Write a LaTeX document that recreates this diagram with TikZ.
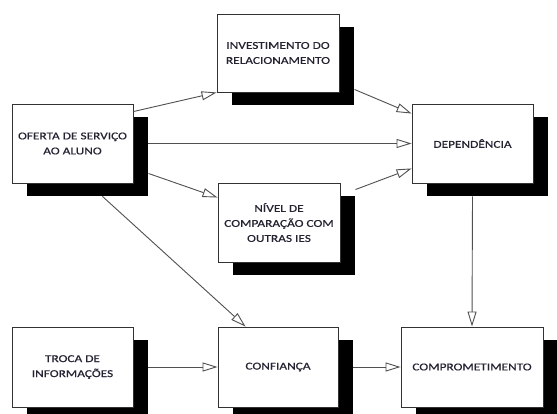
\documentclass[tikz,border=0pt]{standalone}
\usepackage{fontspec}
\usetikzlibrary{arrows.meta,shadows,calc}
\newfontfamily\boxfont[FakeStretch=1.27,FakeBold=0.5]{Carlito}
\definecolor{linegray}{RGB}{80,80,80}
\definecolor{edgegray}{RGB}{50,50,50}
\definecolor{txt}{RGB}{35,35,50}
\begin{document}
\begin{tikzpicture}[x=1pt,y=-1pt,
  block/.style={draw=edgegray, line width=0.9pt, fill=white,
    minimum width=121pt, minimum height=79pt, inner sep=2pt,
    align=center, text=txt,
    font=\boxfont\fontsize{10.5}{15}\selectfont,
    general shadow={fill=black, shadow xshift=15pt, shadow yshift=-13pt}},
  link/.style={draw=linegray, line width=0.9pt,
    -{Triangle[length=15pt,width=9pt,fill=white]}}]
\useasboundingbox[fill=white] (0,0) rectangle (557,414);

% boxes
\node[block] (of)   at (72.5,143.5) {OFERTA DE SERVIÇO\\AO ALUNO};
\node[block, minimum width=122pt, minimum height=78pt] (inv) at (278,53) {INVESTIMENTO DO\\RELACIONAMENTO};
\node[block, minimum width=122pt] (niv)  at (279,222.5) {NÍVEL DE\\COMPARAÇÃO COM\\OUTRAS IES};
\node[block] (dep)  at (472.5,143.5) {DEPENDÊNCIA};
\node[block, minimum height=80pt] (troca) at (72.5,367) {TROCA DE\\INFORMAÇÕES};
\node[block, minimum width=120pt, minimum height=80pt] (conf) at (278,367) {CONFIANÇA};
\node[block, minimum width=142pt, minimum height=80pt] (comp) at (472,367) {COMPROMETIMENTO};

% connectors
\draw[link] ($(of.north east)+(0,8)$) -- (inv.south west);
\draw[link] ($(of.east)+(15,0)$) -- (dep.west);
\draw[link] ($(of.south east)+(15,-10)$) -- ($(niv.north west)+(0,15)$);
\draw[link] ($(inv.south east)+(15,-3)$) -- ($(dep.north west)+(0,10)$);
\draw[link] ($(niv.north east)+(15,7)$) -- ($(dep.south west)+(0,-15)$);
\draw[link] ($(of.south)+(30,13)$) -- ($(conf.north west)+(28,0)$);
\draw[link] ($(troca.east)+(15,0)$) -- (conf.west);
\draw[link] ($(conf.east)+(15,0)$) -- (comp.west);
\draw[link] ($(dep.south)+(0,13)$) -- (comp.north);
\end{tikzpicture}
\end{document}
